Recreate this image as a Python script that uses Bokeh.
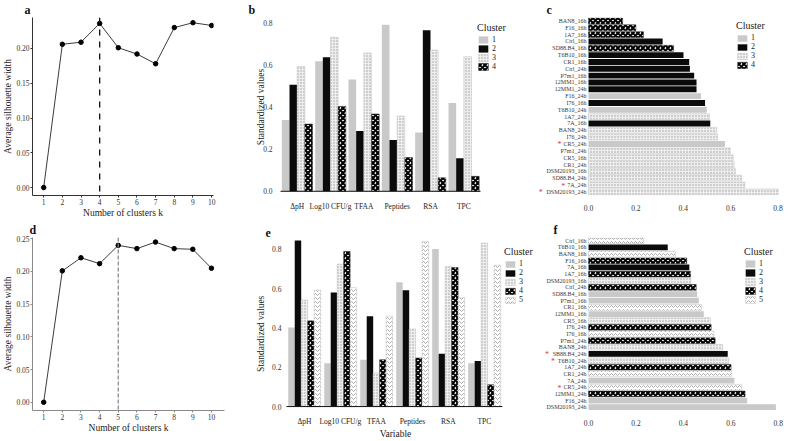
import math
from bokeh.plotting import figure
from bokeh.models import (ColumnDataSource, Span, Legend, LegendItem,
                          FixedTicker, NumeralTickFormatter)
from bokeh.layouts import row, column
from bokeh.embed import file_html
from bokeh.resources import INLINE

SERIF = "Liberation Serif"
SANS = "Liberation Sans"

# ---- silhouette curves -------------------------------------------------
k_values = [1, 2, 3, 4, 5, 6, 7, 8, 9, 10]
sil_16_24 = [0.000, 0.206, 0.209, 0.236, 0.201, 0.192, 0.178, 0.230, 0.237, 0.233]
sil_all = [0.000, 0.201, 0.221, 0.212, 0.240, 0.235, 0.245, 0.235, 0.234, 0.205]
k_best_top = 4
k_best_bottom = 5

# ---- cluster profiles ---------------------------------------------------
variables = ["ΔpH", "Log10 CFU/g", "TFAA", "Peptides", "RSA", "TPC"]
profile_ticks = [0.0, 0.2, 0.4, 0.6, 0.8]
prof4_c1 = [0.339, 0.617, 0.531, 0.791, 0.279, 0.419]
prof4_c2 = [0.506, 0.636, 0.286, 0.243, 0.764, 0.157]
prof4_c3 = [0.593, 0.731, 0.657, 0.357, 0.671, 0.639]
prof4_c4 = [0.319, 0.403, 0.367, 0.160, 0.064, 0.071]

prof5_c1 = [0.402, 0.220, 0.238, 0.633, 0.801, 0.220]
prof5_c2 = [0.845, 0.580, 0.460, 0.592, 0.269, 0.232]
prof5_c3 = [0.542, 0.725, 0.171, 0.395, 0.712, 0.832]
prof5_c4 = [0.436, 0.789, 0.238, 0.247, 0.707, 0.111]
prof5_c5 = [0.592, 0.605, 0.460, 0.839, 0.554, 0.719]

# ---- per-sample silhouette widths ----------------------------------------
c_samples = ["BAN8_16h", "F16_16h", "1A7_16h", "Ctrl_16h", "SD88.B4_16h", "T6B10_16h",
             "CR1_16h", "Ctrl_24h", "P7m1_16h", "12MM1_16h", "12MM1_24h", "F16_24h",
             "I76_16h", "T6B10_24h", "1A7_24h", "7A_16h", "BAN8_24h", "I76_24h",
             "CR5_24h", "P7m1_24h", "CR5_16h", "CR1_24h", "DSM20193_16h", "SD88.B4_24h",
             "7A_24h", "DSM20193_24h"]
c_widths = [0.144, 0.200, 0.232, 0.313, 0.359, 0.401, 0.425, 0.428, 0.446, 0.456, 0.456,
            0.475, 0.492, 0.499, 0.511, 0.514, 0.541, 0.545, 0.576, 0.599, 0.611, 0.615,
            0.620, 0.646, 0.660, 0.801]
c_clusters = [4, 4, 4, 2, 4, 2, 2, 2, 2, 2, 2, 1, 2, 1, 3, 2, 3, 3, 1, 3, 3, 3, 3, 3, 3, 3]
c_marked = ["CR5_24h", "7A_24h", "DSM20193_24h"]

f_samples = ["Ctrl_16h", "T6B10_16h", "BAN8_16h", "F16_16h", "7A_16h", "1A7_16h",
             "DSM20193_16h", "Ctrl_24h", "SD88.B4_16h", "P7m1_16h", "CR1_16h", "12MM1_16h",
             "CR5_16h", "I76_24h", "I76_16h", "P7m1_24h", "BAN8_24h", "SB88.B4_24h",
             "T6B10_24h", "1A7_24h", "CR1_24h", "7A_24h", "CR5_24h", "12MM1_24h",
             "F16_24h", "DSM20193_24h"]
f_widths = [0.232, 0.334, 0.366, 0.414, 0.425, 0.430, 0.432, 0.454, 0.458, 0.465, 0.477,
            0.486, 0.514, 0.517, 0.528, 0.534, 0.566, 0.587, 0.591, 0.601, 0.604, 0.615,
            0.646, 0.660, 0.669, 0.790]
f_clusters = [5, 2, 5, 4, 2, 4, 3, 4, 1, 1, 5, 1, 3, 4, 5, 4, 3, 2, 3, 4, 5, 1, 5, 4, 1, 1]
f_marked = ["SB88.B4_24h", "T6B10_24h", "CR5_24h"]

# ---- fill styles for clusters --------------------------------------------
CLUSTER_STYLE = {
    1: dict(fill_color="#c9c9c9", line_color=None),
    2: dict(fill_color="#0b0b0b", line_color=None),
    3: dict(fill_color="#eeeeee", hatch_pattern="dot", hatch_color="#9c9c9c",
            hatch_scale=3, hatch_weight=1, line_color="#c4c4c4", line_width=0.5),
    4: dict(fill_color="white", hatch_pattern="diagonal_cross", hatch_color="#000000",
            hatch_scale=5, hatch_weight=2.2, line_color="#222222", line_width=0.5),
    5: dict(fill_color="white", hatch_pattern="horizontal_wave", hatch_color="#8a8a8a",
            hatch_scale=4, hatch_weight=0.7, line_color="#bdbdbd", line_width=0.5),
}

# approximate advance widths (em) of the sans face, used to place the red markers
EM = {c: 0.556 for c in "0123456789_abcdeghnopqu"}
EM.update({"f": 0.278, "i": 0.222, "l": 0.222, "m": 0.833, "r": 0.333, "s": 0.5,
           "t": 0.278, ".": 0.278, "A": 0.667, "B": 0.667, "C": 0.722, "D": 0.722,
           "F": 0.611, "I": 0.278, "M": 0.833, "N": 0.722, "P": 0.667, "S": 0.667,
           "T": 0.611})
LABEL_SIZE = 6

# every plot in a row shares the same top (title) and bottom border
TOP_ROW_BOTTOM = 24
BOTTOM_ROW_BOTTOM = 25


def text_width(s, size):
    return sum(EM.get(ch, 0.6) for ch in s) * size


def base_fig(width, height, x_range, y_range, left, right, bottom, letter, letter_off):
    p = figure(width=width, height=height, x_range=x_range, y_range=y_range,
               output_backend="svg", toolbar_location=None,
               min_border_left=left, min_border_right=right,
               min_border_top=0, min_border_bottom=bottom)
    p.outline_line_color = None
    p.grid.visible = False
    p.background_fill_color = "white"
    p.border_fill_color = "white"
    for ax in p.xaxis + p.yaxis:
        ax.minor_tick_line_color = None
        ax.major_label_text_font = SERIF
        ax.major_label_text_color = "#333333"
        ax.axis_label_text_font = SERIF
        ax.axis_label_text_font_style = "normal"
        ax.axis_label_text_color = "#222222"
    # panel letter
    p.title.text = letter
    p.title.align = "left"
    p.title.offset = letter_off
    p.title.standoff = 1
    p.title.text_font = SERIF
    p.title.text_font_size = "12px"
    p.title.text_font_style = "bold"
    p.title.text_color = "#111111"
    return p


def add_legend(p, items, glyph_h, location):
    legend = Legend(items=items, title="Cluster", location=location)
    legend.title_text_font = SERIF
    legend.title_text_font_size = "10px"
    legend.title_text_font_style = "normal"
    legend.title_text_color = "#222222"
    legend.title_standoff = 2
    legend.label_text_font = SERIF
    legend.label_text_font_size = "8px"
    legend.label_text_color = "#222222"
    legend.glyph_width = 12
    legend.glyph_height = glyph_h
    legend.label_height = glyph_h
    legend.label_width = 10
    legend.label_standoff = 3
    legend.spacing = 0
    legend.padding = 2
    legend.margin = 0
    legend.border_line_color = None
    legend.background_fill_alpha = 0
    p.add_layout(legend)


def silhouette_panel(sil, k_best, width, height, x_range, y_range, borders,
                     y_ticks, axis_color, span_color, span_dash, letter, letter_off):
    p = base_fig(width, height, x_range, y_range, *borders, letter, letter_off)
    p.line(k_values, sil, line_color="#3c3c3c", line_width=1)
    p.scatter(k_values, sil, size=4.5, color="black")
    p.add_layout(Span(location=k_best, dimension="height", line_color=span_color,
                      line_dash=span_dash, line_width=1.3))
    p.xaxis.ticker = FixedTicker(ticks=k_values)
    p.yaxis.ticker = FixedTicker(ticks=y_ticks)
    p.yaxis.formatter = NumeralTickFormatter(format="0.00")
    p.xaxis.axis_label = "Number of clusters k"
    p.yaxis.axis_label = "Average silhouette width"
    for ax in p.xaxis + p.yaxis:
        ax.axis_line_color = axis_color
        ax.major_tick_line_color = axis_color
        ax.major_tick_out = 2
        ax.major_tick_in = 0
        ax.major_label_standoff = 1
        ax.axis_label_standoff = 0
        ax.major_label_text_font_size = "7.5px"
        ax.axis_label_text_font_size = "9.5px"
    return p


def profile_panel(profiles, bar_w, width, height, x_range, y_range, bottom, x_label,
                  tick_dx, ylabel_dx, ylabel_y, legend_loc, glyph_h, letter, letter_off):
    p = base_fig(width, height, x_range, y_range, 0, 0, bottom, letter, letter_off)
    n = len(profiles)
    nvar = len(variables)
    items = []
    for j, vals in enumerate(profiles):
        xs = [i + 1 + (j - (n - 1) / 2) * bar_w for i in range(nvar)]
        src = ColumnDataSource(dict(x=xs, top=vals))
        r = p.vbar(x="x", top="top", bottom=0, width=bar_w, source=src,
                   **CLUSTER_STYLE[j + 1])
        items.append(LegendItem(label=str(j + 1), renderers=[r]))
    # baseline at zero under the bars
    p.line(x=[0.5, nvar + 0.5], y=[0, 0], line_color="#111111", line_width=1)

    p.xaxis.ticker = FixedTicker(ticks=list(range(1, nvar + 1)))
    p.xaxis.major_label_overrides = {i + 1: v for i, v in enumerate(variables)}
    p.xaxis.axis_line_color = None
    p.xaxis.major_tick_line_color = None
    p.xaxis.major_label_standoff = 0
    p.xaxis.major_label_text_font_size = "7.5px"
    p.xaxis.major_label_text_color = "#222222"
    if x_label:
        p.xaxis.axis_label = x_label
        p.xaxis.axis_label_text_font_size = "9.5px"
        p.xaxis.axis_label_standoff = 0
    p.yaxis.visible = False

    # value scale on the left, drawn inside the widened frame
    ticks = ColumnDataSource(dict(x=[0.5] * len(profile_ticks), y=profile_ticks,
                                  text=[f"{t:.1f}" for t in profile_ticks]))
    p.text(x="x", y="y", text="text", source=ticks, x_offset=tick_dx,
           text_align="right", text_baseline="middle", text_color="#333333",
           text_font=SERIF, text_font_size="7.5px")
    p.text(x=[0.5], y=[ylabel_y], text=["Standardized values"], x_offset=ylabel_dx,
           angle=math.pi / 2, text_align="center", text_baseline="middle",
           text_color="#222222", text_font=SERIF, text_font_size="9.5px")

    add_legend(p, items, glyph_h, legend_loc)
    return p


def ranking_panel(samples, widths, clusters, marked, width, height, x_range, y_range,
                  bottom, legend_loc, glyph_h, letter, letter_off):
    n = len(samples)
    ys = [n - 1 - i for i in range(n)]
    p = base_fig(width, height, x_range, y_range, 0, 2, bottom, letter, letter_off)
    items = []
    for k in sorted(set(clusters)):
        idx = [i for i in range(n) if clusters[i] == k]
        src = ColumnDataSource(dict(y=[ys[i] for i in idx], right=[widths[i] for i in idx]))
        r = p.hbar(y="y", right="right", left=0, height=0.86, source=src, **CLUSTER_STYLE[k])
        items.append(LegendItem(label=str(k), renderers=[r]))

    # sample names to the left of the bars
    names = ColumnDataSource(dict(x=[0.0] * n, y=ys, text=samples))
    p.text(x="x", y="y", text="text", source=names, x_offset=-2,
           text_align="right", text_baseline="middle", text_color="#3a3a3a",
           text_font=SANS, text_font_size=f"{LABEL_SIZE}px")
    # red markers in front of selected sample names
    mk = [i for i in range(n) if samples[i] in marked]
    stars = ColumnDataSource(dict(
        x=[0.0] * len(mk), y=[ys[i] for i in mk], text=["*"] * len(mk),
        dx=[-(text_width(samples[i], LABEL_SIZE) + 2.5) for i in mk]))
    p.text(x="x", y="y", text="text", source=stars, x_offset="dx", y_offset=1,
           text_align="right", text_baseline="middle", text_color="#e03a3a",
           text_font=SANS, text_font_size="8px")

    p.yaxis.visible = False
    p.xaxis.ticker = FixedTicker(ticks=[0.0, 0.2, 0.4, 0.6, 0.8])
    p.xaxis.formatter = NumeralTickFormatter(format="0.0")
    p.xaxis.axis_line_color = None
    p.xaxis.major_tick_line_color = None
    p.xaxis.major_label_standoff = 3
    p.xaxis.major_label_text_font_size = "7.5px"

    add_legend(p, items, glyph_h, legend_loc)
    return p


pa = silhouette_panel(sil_16_24, k_best_top, 245, 220, (0.4, 10.1), (-0.0114, 0.2445),
                      (30, 32, TOP_ROW_BOTTOM), [0.0, 0.05, 0.10, 0.15, 0.20],
                      "#333333", "#111111", "dashed", "a", -8)
pb = profile_panel([prof4_c1, prof4_c2, prof4_c3, prof4_c4], 0.23, 275, 220,
                   (-0.55, 7.7), (-0.02, 0.825), TOP_ROW_BOTTOM, None, -8, -20, 0.40,
                   (232, 124), 9, "b", 3)
pc = ranking_panel(c_samples, c_widths, c_clusters, c_marked, 269, 220,
                   (-0.287, 0.84), (-0.535, 25.506), TOP_ROW_BOTTOM, (216, 126), 8, "c", 26)

pd = silhouette_panel(sil_all, k_best_bottom, 255, 221, (0.4, 10.7), (-0.0126, 0.252),
                      (25, 31, BOTTOM_ROW_BOTTOM), [0.0, 0.05, 0.10, 0.15, 0.20, 0.25],
                      "#8a8a8a", "#8a8a8a", "4 2", "d", -3)
pe = profile_panel([prof5_c1, prof5_c2, prof5_c3, prof5_c4, prof5_c5], 0.18, 280, 221,
                   (-0.36, 7.42), (-0.02, 0.86), BOTTOM_ROW_BOTTOM, "Variable", -5, -25, 0.37,
                   (249, 106), 8, "e", 10)
pf = ranking_panel(f_samples, f_widths, f_clusters, f_marked, 254, 221,
                   (-0.2236, 0.839), (-0.5, 25.5), BOTTOM_ROW_BOTTOM, (209, 106), 9, "f", 18)

layout = column(row(pa, pb, pc), row(pd, pe, pf))

open("out.html", "w").write(file_html(layout, INLINE))
